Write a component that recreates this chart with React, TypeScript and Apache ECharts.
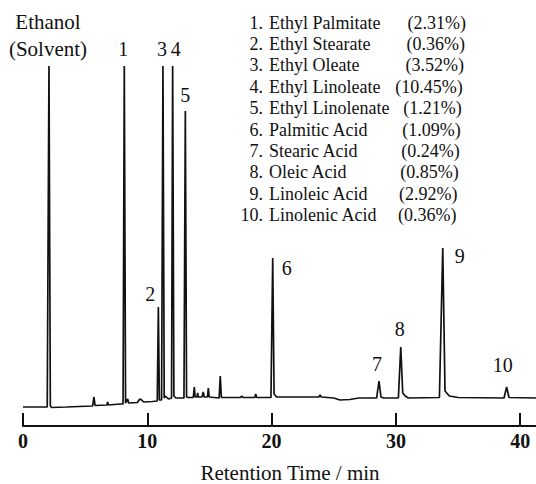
import React, { useEffect, useRef } from "react";
import * as echarts from "echarts";

// Chromatogram trace: retention time (min) and detector signal (arbitrary units)
const retentionTimes = [
  0.0, 1.0, 1.95, 2.09, 2.2, 2.3, 3.5, 4.5, 5.6, 5.71, 5.8, 6.75, 6.81, 6.87,
  7.8, 8.05, 8.15, 8.25, 8.42, 8.5, 9.2, 9.4, 9.55, 9.7, 10.4, 10.8, 10.89,
  10.97, 11.15, 11.26, 11.36, 11.45, 11.7, 11.95, 12.04, 12.14, 12.3, 12.95,
  13.06, 13.16, 13.3, 13.7, 13.78, 13.85, 14.0, 14.05, 14.1, 14.4, 14.5, 14.58,
  14.84, 14.91, 14.98, 15.78, 15.87, 15.96, 16.5, 17.5, 17.6, 17.7, 18.65,
  18.72, 18.8, 19.95, 20.09, 20.2, 20.4, 22.0, 23.8, 23.9, 24.0, 25.0, 25.5,
  26.3, 27.0, 28.45, 28.64, 28.8, 29.0, 30.2, 30.39, 30.55, 30.75, 31.0, 33.5,
  33.77, 33.95, 34.3, 35.0, 38.7, 38.91, 39.1, 41.3,
];
const signal = [
  19, 19, 19, 360, 20, 18.5, 19, 19.5, 20, 29, 20.5, 21, 24, 21,
  22, 22, 360, 23, 27, 23, 23.5, 27, 26, 24, 24.5, 25, 119,
  26, 26, 360, 28, 30, 27, 28, 360, 30, 28, 28,
  315, 29, 28.5, 28.5, 39, 29, 29, 33, 29, 29, 34, 29,
  29, 38, 29, 28, 50, 28.5, 28.5, 28.5, 30, 28.5, 28.5,
  32, 28.5, 28.5, 168, 32, 29, 29, 29, 31, 29, 28, 26,
  26.5, 28, 28, 45, 29, 28, 28, 79, 33, 30, 28, 28.5,
  178, 35, 30, 28.5, 28, 39, 28.5, 28,
];

// Labelled peaks
const peakLabels = ["Ethanol\n(Solvent)", "1", "2", "3", "4", "5", "6", "7", "8", "9", "10"];
const peakTimes = [2.09, 8.15, 10.89, 11.26, 12.04, 13.06, 20.09, 28.64, 30.39, 33.77, 38.91];
const peakHeights = [360, 360, 119, 360, 360, 315, 168, 45, 79, 178, 39];

// Peak identification list
const compoundNumbers = ["1.", "2.", "3.", "4.", "5.", "6.", "7.", "8.", "9.", "10."];
const compoundNames = [
  "Ethyl Palmitate",
  "Ethyl Stearate",
  "Ethyl Oleate",
  "Ethyl Linoleate",
  "Ethyl Linolenate",
  "Palmitic Acid",
  "Stearic Acid",
  "Oleic Acid",
  "Linoleic Acid",
  "Linolenic Acid",
];
const compoundPercents = ["(2.31%)", "(0.36%)", "(3.52%)", "(10.45%)", "(1.21%)", "(1.09%)", "(0.24%)", "(0.85%)", "(2.92%)", "(0.36%)"];

const xTickValues = [0, 10, 20, 30, 40];
const xAxisTitle = "Retention Time / min";

// label offsets (pixels) relative to the apex of each peak — styling only
const labelOffsets: [number, number][] = [
  [-1, -31], [-1, -17], [-8, -13], [-1, -17], [3, -17], [0, -16],
  [14, 10], [-2, -17], [-1, -18], [17, 8], [-4, -22],
];

const FONT = "Liberation Serif";

export default function App() {
  const ref = useRef<HTMLDivElement>(null);
  useEffect(() => {
    if (!ref.current) return;
    const chart = echarts.init(ref.current, undefined, { renderer: "svg" });
    const trace = retentionTimes.map((t, i) => [t, signal[i]]);
    const listGraphics: any[] = [];
    compoundNames.forEach((name, i) => {
      const y = 22.6 + i * 21.39;
      listGraphics.push({
        type: "text", x: 263, y,
        style: { text: compoundNumbers[i], fontFamily: FONT, fontSize: 18, fill: "#111", align: "right", verticalAlign: "middle" },
      });
      listGraphics.push({
        type: "text", x: 269, y,
        style: { text: name, fontFamily: FONT, fontSize: 18, fill: "#111", align: "left", verticalAlign: "middle" },
      });
      listGraphics.push({
        type: "text", x: 466 - 1.05 * i, y,
        style: { text: compoundPercents[i], fontFamily: FONT, fontSize: 18, fill: "#111", align: "right", verticalAlign: "middle" },
      });
    });
    listGraphics.push({
      type: "text", x: 290, y: 472.5,
      style: { text: xAxisTitle, fontFamily: FONT, fontSize: 21, fill: "#111", align: "center", verticalAlign: "middle" },
    });

    chart.setOption({
      animation: false,
      backgroundColor: "#ffffff",
      grid: { left: 23, width: 621.5, top: 0, bottom: 58, containLabel: false, outerBoundsMode: "none" },
      xAxis: {
        type: "value",
        min: 0,
        max: 50,
        interval: 10,
        axisLine: { show: true, lineStyle: { color: "#111", width: 2 } },
        axisTick: { show: true, inside: true, length: 13, lineStyle: { color: "#111", width: 2 } },
        axisLabel: {
          show: true,
          margin: 5,
          fontFamily: FONT,
          fontSize: 20,
          fontWeight: "bold",
          color: "#111",
          formatter: (v: number) => (xTickValues.includes(v) ? String(v) : ""),
        },
        splitLine: { show: false },
      },
      yAxis: { type: "value", min: 0, max: 426, show: false },
      series: [
        {
          type: "line",
          data: trace,
          showSymbol: false,
          symbol: "none",
          lineStyle: { color: "#111", width: 1.7 },
          silent: true,
          markPoint: {
            symbol: "circle",
            symbolSize: 1,
            itemStyle: { color: "rgba(0,0,0,0)" },
            silent: true,
            data: peakLabels.map((lab, i) => ({
              coord: [peakTimes[i], peakHeights[i]],
              label: {
                show: true,
                formatter: lab,
                position: "inside",
                offset: labelOffsets[i],
                fontFamily: FONT,
                fontSize: i === 0 ? 21 : 20,
                lineHeight: 27,
                color: "#111",
                align: "center",
                verticalAlign: "middle",
              },
            })),
          },
        },
      ],
      graphic: listGraphics,
    });
    return () => chart.dispose();
  }, []);
  return <div ref={ref} style={{ position: "fixed", left: 0, top: 0, width: 536, height: 484 }} />;
}
